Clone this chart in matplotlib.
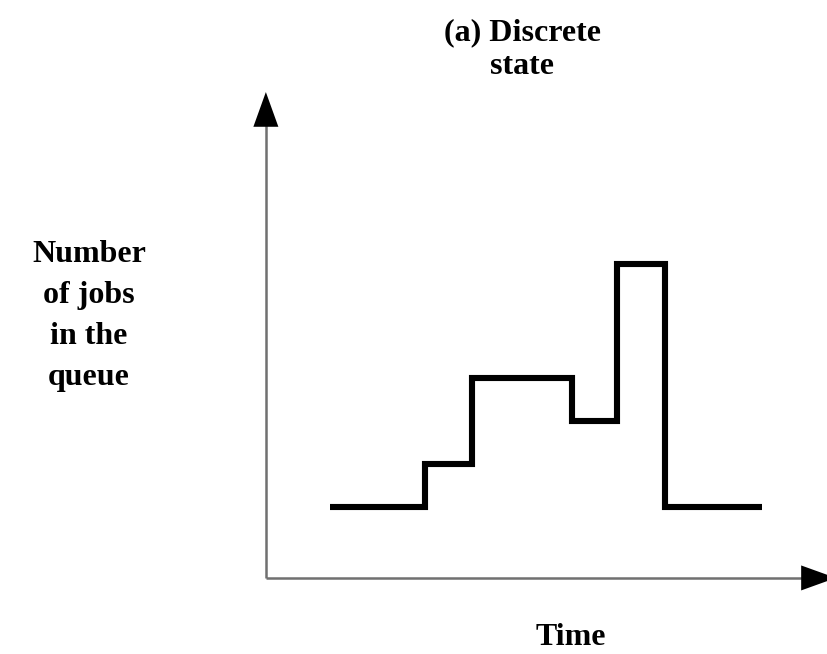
import matplotlib.pyplot as plt

# step breakpoints along time, and queue length held between them
time_edges = [0, 2, 3, 5.1, 6.05, 7.05, 9.1]
jobs_levels = [1, 2, 4, 3, 6.65, 1]

# where the drawn axes start and end (same units as the data)
axis_origin = (-1.35, -0.65)
y_axis_tip = 10.65
x_axis_tip = 10.65

title_lines = ["(a) Discrete", "state"]
ylabel_lines = ["Number", "of jobs", "in the", "queue"]
xlabel = "Time"

fig = plt.figure(figsize=(8.27, 6.54), dpi=100)
ax = fig.add_axes([0, 0, 1, 1])
ax.set_xlim(-6.947, 10.463)
ax.set_ylim(-2.419, 12.791)
ax.axis("off")

# axes lines (grey) with black arrow heads
x0, y0 = axis_origin
ax.plot([x0, x0], [y0, y_axis_tip - 0.7], color="#707070", lw=1.8, solid_capstyle="butt")
ax.plot([x0, x_axis_tip - 0.6], [y0, y0], color="#707070", lw=1.8, solid_capstyle="butt")
head = dict(arrowstyle="-|>,head_length=25,head_width=9", color="black", lw=0,
            shrinkA=0, shrinkB=0, mutation_scale=1)
ax.annotate("", xy=(x0, y_axis_tip), xytext=(x0, y_axis_tip - 1.0),
            arrowprops=head, annotation_clip=False)
ax.annotate("", xy=(x_axis_tip, y0), xytext=(x_axis_tip - 1.0, y0),
            arrowprops=head, annotation_clip=False)

# the discrete queue-length trace
ax.stairs(jobs_levels, time_edges, baseline=None, color="black", lw=4.4,
          joinstyle="miter")

font = dict(family="Liberation Serif", weight="bold", size=23, color="black")
W, H = 827.0, 654.0
for i, line in enumerate(title_lines):
    fig.text(522 / W, 1 - (40 + 34 * i) / H, line, ha="center", va="baseline", **font)
for i, line in enumerate(ylabel_lines):
    fig.text(89 / W, 1 - (262 + 41 * i) / H, line, ha="center", va="baseline", **font)
fig.text(571 / W, 1 - 645 / H, xlabel, ha="center", va="baseline", **font)

fig.savefig("out.png", dpi=100)
